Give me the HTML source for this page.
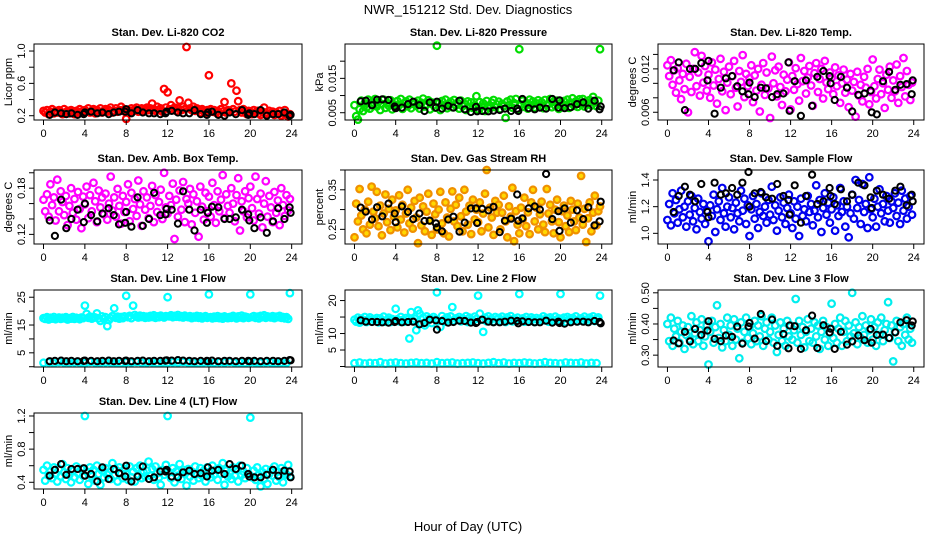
<!DOCTYPE html>
<html><head><meta charset="utf-8"><style>
html,body{margin:0;padding:0;background:#fff;}
svg{display:block;font-family:"Liberation Sans",Arial,sans-serif;}
</style></head><body>
<svg id="chart" width="936" height="540" viewBox="0 0 936 540">
<text x="468" y="14" text-anchor="middle" font-size="13">NWR_151212 Std. Dev. Diagnostics</text>
<text x="468" y="531" text-anchor="middle" font-size="13">Hour of Day (UTC)</text>
</svg>
<script>
const xTicks=[0,4,8,12,16,20,24];
const blackHours=[0.6,1.1,1.7,2.2,2.7,3.3,3.9,4.0,4.6,5.2,5.7,6.3,6.8,7.3,7.9,8.0,8.5,9.1,9.6,10.2,10.7,11.3,11.8,11.9,12.4,13.0,13.5,14.1,14.6,15.2,15.8,15.9,16.3,16.9,17.5,18.0,18.6,19.2,19.8,19.9,20.4,21.0,21.6,22.2,22.7,23.3,23.8,23.9];

const co2Vals=[.26,.24,.27,.22,.25,.28,.23,.26,.24,.27,.25,.22,.28,.24,.26,.23,.27,.25,.22,.26,.24,.28,.25,.23,.27,.25,.29,.24,.26,.28,.23,.27,.25,.29,.24,.26,.28,.25,.27,.30,.24,.26,.29,.25,.27,.31,.26,.28,.16,.27,.25,.29,.26,.28,.30,.25,.27,.29,.26,.28,.30,.27,.29,.35,.28,.26,.31,.27,.29,.25,.53,.30,.49,.28,.33,.27,.30,.26,.29,.39,.27,.31,.28,1.05,.36,.29,.27,.31,.26,.29,.27,.24,.28,.26,.23,.27,.70,.28,.25,.27,.24,.26,.23,.28,.25,.37,.24,.27,.26,.60,.28,.25,.51,.38,.27,.24,.28,.25,.22,.26,.25,.22,.27,.24,.26,.23,.21,.25,.30,.24,.22,.26,.23,.25,.21,.24,.22,.26,.20,.23,.27,.21,.19,.22];
const co2Black=[.21,.24,.23,.22,.23,.21,.22,.24,.25,.23,.24,.22,.24,.25,.25,.28,.23,.27,.24,.23,.23,.22,.23,.25,.26,.24,.23,.23,.27,.22,.21,.24,.25,.21,.20,.24,.22,.27,.21,.23,.22,.27,.20,.22,.22,.24,.20,.21];

const presVals=[.0072,.0040,.0030,.0060,.0085,.0055,.0078,.0065,.0088,.0062,.0080,.0070,.0090,.0068,.0082,.0058,.0075,.0088,.0064,.0079,.0070,.0086,.0060,.0074,.0066,.0084,.0072,.0090,.0061,.0077,.0083,.0069,.0088,.0063,.0076,.0081,.0070,.0085,.0062,.0079,.0091,.0068,.0074,.0086,.0060,.0080,.0072,.0065,.0245,.0078,.0058,.0084,.0070,.0088,.0063,.0076,.0082,.0066,.0087,.0071,.0079,.0062,.0085,.0069,.0076,.0058,.0083,.0067,.0080,.0064,.0072,.0098,.0060,.0081,.0068,.0077,.0055,.0084,.0070,.0063,.0079,.0087,.0066,.0074,.0082,.0061,.0076,.0069,.0035,.0083,.0072,.0088,.0065,.0078,.0090,.0060,.0235,.0074,.0085,.0067,.0079,.0062,.0088,.0071,.0083,.0065,.0077,.0086,.0069,.0080,.0063,.0087,.0072,.0076,.0090,.0066,.0082,.0070,.0085,.0061,.0078,.0068,.0084,.0071,.0088,.0064,.0079,.0092,.0070,.0083,.0067,.0089,.0074,.0090,.0068,.0082,.0076,.0087,.0071,.0096,.0080,.0069,.0085,.0235];
const presBlack=[.0083,.0085,.0072,.0088,.0089,.0087,.0068,.0063,.0065,.0075,.0082,.0072,.0055,.0080,.0065,.0082,.0062,.0070,.0065,.0085,.0060,.0052,.0067,.0054,.0055,.0054,.0056,.0058,.0062,.0055,.0062,.0055,.0090,.0063,.0060,.0065,.0062,.0090,.0065,.0086,.0063,.0066,.0075,.0080,.0062,.0085,.0060,.0068];

const tempVals=[.0125,.0110,.0132,.0098,.0118,.0087,.0121,.0104,.0078,.0113,.0092,.0127,.0060,.0109,.0088,.0120,.0143,.0096,.0115,.0083,.0138,.0101,.0124,.0090,.0112,.0080,.0129,.0097,.0119,.0072,.0106,.0134,.0089,.0116,.0063,.0101,.0123,.0085,.0110,.0131,.0094,.0068,.0117,.0102,.0139,.0081,.0113,.0096,.0107,.0125,.0074,.0111,.0090,.0120,.0061,.0098,.0128,.0084,.0115,.0093,.0052,.0137,.0100,.0118,.0082,.0123,.0095,.0070,.0112,.0089,.0105,.0129,.0064,.0110,.0091,.0121,.0099,.0076,.0135,.0103,.0117,.0086,.0108,.0124,.0097,.0069,.0114,.0128,.0088,.0106,.0120,.0079,.0131,.0101,.0092,.0115,.0108,.0085,.0122,.0096,.0111,.0073,.0100,.0119,.0087,.0105,.0067,.0113,.0090,.0102,.0054,.0116,.0083,.0098,.0075,.0109,.0094,.0120,.0071,.0088,.0133,.0096,.0079,.0106,.0119,.0085,.0100,.0066,.0112,.0091,.0123,.0080,.0104,.0089,.0126,.0073,.0110,.0095,.0135,.0082,.0117,.0098,.0077,.0101];
const tempBlack=[.0118,.0129,.0063,.0120,.0120,.0128,.0104,.0131,.0058,.0094,.0107,.0110,.0096,.0089,.0085,.0101,.0081,.0094,.0093,.0081,.0085,.0086,.0129,.0062,.0103,.0055,.0104,.0069,.0109,.0117,.0110,.0100,.0077,.0109,.0094,.0061,.0084,.0086,.0090,.0060,.0057,.0103,.0116,.0091,.0098,.0099,.0085,.0104];

const ambVals=[.165,.150,.172,.143,.185,.158,.168,.138,.191,.150,.176,.162,.145,.170,.132,.157,.180,.148,.166,.139,.175,.153,.128,.169,.159,.182,.141,.171,.150,.187,.163,.136,.177,.155,.168,.146,.173,.139,.160,.195,.151,.168,.143,.179,.157,.134,.170,.149,.162,.185,.137,.174,.153,.166,.144,.190,.159,.131,.176,.152,.168,.141,.157,.183,.136,.171,.149,.162,.178,.140,.200,.155,.147,.170,.158,.186,.114,.165,.143,.177,.152,.188,.136,.166,.160,.179,.133,.172,.148,.163,.117,.182,.156,.139,.174,.150,.169,.143,.187,.158,.135,.176,.150,.165,.197,.141,.172,.157,.148,.180,.160,.137,.171,.193,.125,.163,.150,.176,.142,.167,.182,.154,.138,.195,.166,.147,.173,.129,.160,.189,.143,.170,.155,.136,.175,.148,.164,.132,.180,.158,.144,.171,.151,.166];
const ambBlack=[.138,.118,.165,.128,.140,.152,.136,.160,.145,.137,.147,.154,.145,.133,.135,.149,.130,.168,.131,.140,.174,.145,.146,.153,.152,.134,.176,.152,.125,.152,.135,.148,.156,.155,.140,.140,.142,.152,.146,.138,.128,.142,.122,.137,.154,.140,.155,.148];

const rhVals=[.230,.315,.270,.352,.285,.250,.300,.240,.320,.262,.358,.295,.278,.345,.258,.310,.235,.290,.338,.268,.302,.248,.325,.282,.298,.255,.336,.275,.312,.242,.290,.350,.265,.305,.252,.322,.280,.215,.330,.260,.308,.245,.295,.340,.272,.236,.315,.288,.250,.300,.345,.265,.240,.318,.280,.232,.302,.346,.270,.312,.258,.330,.283,.245,.350,.295,.262,.310,.238,.325,.275,.300,.268,.318,.245,.290,.340,.400,.255,.305,.280,.236,.322,.292,.312,.250,.292,.335,.270,.230,.308,.282,.355,.220,.296,.262,.240,.305,.276,.330,.258,.293,.238,.318,.350,.270,.305,.250,.288,.320,.262,.243,.352,.290,.312,.270,.240,.300,.325,.268,.230,.296,.310,.258,.285,.243,.322,.300,.270,.248,.315,.280,.385,.262,.302,.218,.278,.318,.245,.292,.335,.260,.296,.308];
const rhBlack=[.305,.295,.275,.306,.283,.315,.290,.268,.308,.294,.276,.290,.271,.272,.265,.255,.245,.275,.282,.244,.267,.303,.303,.266,.302,.298,.307,.243,.272,.277,.338,.272,.278,.303,.308,.300,.390,.276,.296,.246,.303,.267,.298,.276,.306,.260,.270,.320];

const sfVals=[1.10,1.22,1.06,1.30,1.15,1.25,1.08,1.18,1.32,1.12,1.20,1.05,1.24,1.14,1.28,1.09,1.19,1.03,1.26,1.16,1.11,1.22,1.07,1.17,0.94,1.21,1.13,1.29,1.01,1.18,1.24,1.10,1.34,1.15,1.05,1.20,1.27,1.12,1.19,1.03,1.23,1.15,1.09,1.32,1.17,1.26,1.07,1.21,0.98,1.18,1.28,1.11,1.22,1.04,1.16,1.30,1.13,1.20,1.08,1.25,1.14,1.35,1.10,1.21,1.02,1.17,1.27,1.12,1.23,1.07,1.19,1.29,1.15,1.04,1.24,1.11,1.20,0.98,1.26,1.13,1.18,1.09,1.28,1.16,1.22,1.06,1.17,1.36,1.12,1.25,1.01,1.19,1.30,1.14,1.23,1.08,1.18,1.27,1.02,1.21,1.13,1.34,1.16,1.24,1.05,1.20,0.97,1.15,1.29,1.11,1.40,1.19,1.25,1.07,1.37,1.16,1.22,1.04,1.42,1.18,1.12,1.26,1.05,1.20,1.33,1.15,1.22,1.09,1.28,1.17,1.08,1.24,1.19,1.30,1.13,1.23,1.07,1.32,1.17,1.26,1.11,1.20,1.28,1.14];
const sfBlack=[1.16,1.28,1.35,1.29,1.24,1.37,1.16,1.12,1.38,1.29,1.30,1.34,1.29,1.38,1.46,1.20,1.30,1.31,1.27,1.26,1.37,1.28,1.25,1.14,1.36,1.08,1.28,1.44,1.22,1.24,1.34,1.28,1.22,1.33,1.24,1.29,1.38,1.36,1.27,1.19,1.32,1.29,1.26,1.32,1.35,1.21,1.29,1.24];

const l1Vals=[17.5,17.2,17.8,17.0,17.6,17.3,17.9,17.1,17.5,17.7,17.2,17.6,17.4,17.8,17.0,17.5,17.3,17.9,17.2,17.6,17.4,17.1,17.7,17.5,22.0,19.0,17.6,18.0,17.3,17.9,17.7,19.2,17.4,16.5,18.1,17.2,17.8,14.6,16.8,17.5,18.2,21.0,17.6,18.0,17.3,17.9,17.5,18.1,25.5,17.8,18.3,17.5,22.0,18.6,18.0,17.7,18.4,17.9,18.2,17.6,18.0,17.7,18.3,17.9,18.5,17.6,18.1,17.8,18.4,18.0,17.7,18.2,25.0,18.1,18.5,17.8,18.3,18.0,18.6,17.9,18.2,17.7,18.4,18.0,17.8,18.2,17.5,18.0,17.7,18.3,17.6,18.1,17.4,17.9,18.2,17.6,26.0,17.8,17.4,18.0,17.6,18.2,17.5,17.9,17.3,18.1,17.7,17.5,17.9,17.6,18.3,17.8,17.4,18.1,17.7,18.4,17.5,18.0,17.8,17.6,26.0,17.9,18.2,17.6,18.0,17.4,18.3,17.8,18.5,17.6,18.1,17.9,17.7,18.2,17.5,18.0,17.8,18.3,17.6,17.9,17.4,17.8,17.2,26.5];
const l1Low=[1.4,1.6,1.3,1.7,1.5,1.4,1.6,1.5,1.3,1.7,1.5,1.4,1.6,1.5,1.4,1.3,1.6,1.5,1.7,1.4,1.5,1.6,1.3,1.5,1.4,1.6,1.5,1.7,1.4,1.5,1.3,1.6,1.5,1.4,1.6,1.5,1.7,1.4,1.5,1.3,1.6,1.5,1.4,1.6,1.5,1.3,1.5,1.4];
const l1Black=[2.0,2.1,2.2,2.0,2.1,2.0,2.1,2.2,2.1,2.0,2.1,2.2,2.0,2.1,2.1,2.2,2.0,2.1,2.2,2.0,2.1,2.1,2.2,2.3,2.2,2.4,2.2,2.1,2.0,2.1,2.1,2.0,2.2,2.0,2.1,2.1,2.0,2.1,2.1,2.0,2.1,2.0,2.1,2.1,2.0,2.1,2.4,2.3];

const l2Vals=[14.2,13.6,14.8,13.3,14.5,13.9,15.0,13.5,14.3,14.9,13.7,14.4,14.0,14.7,13.4,14.6,13.8,15.1,13.6,14.2,14.8,13.5,14.4,14.0,17.5,14.3,13.7,15.0,14.1,13.6,14.7,14.2,8.5,16.5,13.9,14.5,11.0,17.0,16.0,13.0,14.8,12.5,15.2,14.0,14.6,13.2,15.0,14.3,22.5,13.8,12.0,15.3,14.2,13.6,14.9,14.1,15.2,18.0,13.9,14.6,14.3,15.0,13.7,14.6,14.0,15.3,13.5,14.8,14.2,13.9,15.1,14.4,21.5,16.0,14.2,10.5,14.8,13.7,15.2,14.0,14.5,13.6,15.0,14.3,14.7,13.8,15.1,14.2,13.5,14.9,14.0,15.3,13.7,14.5,14.1,14.8,22.0,14.0,14.6,13.6,15.0,14.2,13.8,14.9,14.3,13.5,14.7,14.1,14.5,13.9,15.2,14.0,14.7,13.6,14.9,14.3,13.8,15.1,14.2,14.6,22.0,14.1,14.8,13.5,15.0,14.3,13.9,14.7,14.1,15.2,13.7,14.4,14.6,13.9,15.1,14.2,13.6,14.8,14.0,15.2,13.8,14.5,14.9,21.5];
const l2Low=[1.0,1.2,0.9,1.1,1.0,1.3,0.9,1.1,1.2,1.0,0.9,1.1,1.2,1.0,1.1,0.9,1.3,1.0,1.1,1.2,0.9,1.0,1.1,1.2,1.0,0.9,1.1,1.3,1.0,1.2,0.9,1.1,1.0,1.2,1.1,0.9,1.0,1.3,1.1,1.0,0.9,1.2,1.1,1.0,1.2,0.9,1.1,1.0];
const l2Black=[14.0,13.6,13.5,13.5,13.4,13.3,13.5,13.8,13.4,13.5,13.6,12.8,13.2,14.2,14.0,11.2,13.8,13.3,13.5,13.9,13.8,13.3,13.2,13.5,14.2,13.6,13.4,13.4,13.6,13.9,13.8,13.1,13.7,13.5,13.4,13.4,13.9,13.3,13.6,13.2,13.0,13.4,13.6,13.6,13.4,13.8,13.5,13.1];

const l3Vals=[.400,.345,.420,.330,.385,.360,.410,.340,.375,.395,.320,.365,.390,.350,.425,.335,.370,.405,.345,.380,.415,.330,.360,.395,.270,.375,.410,.340,.390,.460,.355,.400,.325,.380,.345,.420,.365,.395,.330,.415,.350,.385,.290,.405,.340,.375,.420,.355,.390,.335,.370,.410,.345,.395,.360,.425,.330,.385,.405,.350,.375,.420,.340,.395,.310,.365,.405,.345,.385,.330,.410,.360,.395,.350,.380,.480,.340,.410,.365,.390,.325,.375,.415,.345,.385,.340,.405,.360,.395,.320,.375,.410,.350,.390,.330,.370,.465,.355,.400,.340,.385,.420,.330,.375,.410,.345,.395,.360,.500,.370,.405,.335,.390,.355,.425,.365,.395,.340,.380,.415,.350,.390,.330,.405,.365,.420,.345,.380,.400,.470,.355,.395,.280,.375,.410,.345,.390,.330,.400,.365,.420,.350,.385,.340];
const l3Black=[.347,.338,.375,.344,.384,.365,.379,.409,.352,.345,.363,.359,.392,.337,.392,.403,.353,.432,.345,.414,.330,.368,.322,.395,.393,.320,.380,.427,.323,.396,.373,.385,.320,.375,.334,.344,.363,.348,.384,.340,.365,.366,.355,.373,.405,.412,.395,.408];

const l4Vals=[.55,.42,.60,.48,.53,.45,.58,.50,.41,.56,.47,.62,.52,.44,.57,.49,.40,.54,.46,.59,.51,.43,.56,.48,1.20,.53,.38,.58,.47,.55,.42,.60,.50,.37,.54,.46,.57,.49,.52,.44,.63,.48,.55,.41,.58,.51,.45,.56,.50,.43,.59,.46,.53,.41,.57,.49,.60,.45,.52,.47,.54,.65,.48,.56,.43,.59,.51,.46,.37,.55,.49,.61,1.20,.52,.45,.57,.40,.53,.48,.62,.44,.55,.50,.36,.56,.47,.53,.42,.59,.50,.45,.57,.48,.54,.41,.58,.52,.46,.60,.49,.55,.43,.57,.50,.63,.37,.54,.47,.51,.44,.58,.48,.55,.41,.60,.49,.53,.45,.57,.50,1.18,.46,.54,.43,.58,.49,.35,.52,.44,.56,.38,.50,.55,.48,.59,.42,.53,.46,.57,.40,.52,.49,.61,.47];
const l4Black=[.48,.55,.62,.49,.56,.56,.57,.48,.50,.41,.58,.44,.56,.51,.47,.60,.41,.47,.59,.44,.46,.53,.53,.55,.47,.46,.52,.54,.50,.51,.47,.58,.54,.55,.50,.62,.56,.60,.50,.47,.46,.46,.49,.55,.48,.54,.53,.46];

const panels=[
 {name:'co2',title:'Stan. Dev. Li-820 CO2',ylab:'Licor ppm',box:[34,44,302,120],ylim:[0.147,1.087],ticks:[0.2,0.4,0.6,0.8,1.0],labels:['0.2','','0.6','','1.0'],color:'#ff0000',series:[co2Vals],black:co2Black},
 {name:'pressure',title:'Stan. Dev. Li-820 Pressure',ylab:'kPa',box:[345,44,612,120],ylim:[0.00288,0.025],ticks:[0.005,0.010,0.015,0.020],labels:['0.005','','0.015',''],color:'#00dd00',series:[presVals],black:presBlack},
 {name:'temp',title:'Stan. Dev. Li-820 Temp.',ylab:'degrees C',box:[658,44,924,120],ylim:[0.00493,0.01544],ticks:[0.006,0.008,0.010,0.012,0.014],labels:['0.006','','','0.012',''],color:'#ff00ff',series:[tempVals],black:tempBlack},
 {name:'amb-box',title:'Stan. Dev. Amb. Box Temp.',ylab:'degrees C',box:[34,170,302,244],ylim:[0.1075,0.2036],ticks:[0.12,0.14,0.16,0.18,0.20],labels:['0.12','','','0.18',''],color:'#ff00ff',series:[ambVals],black:ambBlack},
 {name:'rh',title:'Stan. Dev. Gas Stream RH',ylab:'percent',box:[345,170,612,244],ylim:[0.213,0.40],ticks:[0.25,0.30,0.35,0.40],labels:['0.25','','0.35',''],color:'#f09000',fill:'#ffd800',series:[rhVals],black:rhBlack},
 {name:'sample-flow',title:'Stan. Dev. Sample Flow',ylab:'ml/min',box:[658,170,924,244],ylim:[0.92,1.475],ticks:[1.0,1.2,1.4],labels:['1.0','1.2','1.4'],color:'#0000ee',series:[sfVals],black:sfBlack},
 {name:'line1',title:'Stan. Dev. Line 1 Flow',ylab:'ml/min',box:[34,290,302,367],ylim:[-0.1,27.6],ticks:[0,5,10,15,20,25],labels:['','5','','15','','25'],color:'#00ffff',series:[l1Vals,l1Low],black:l1Black},
 {name:'line2',title:'Stan. Dev. Line 2 Flow',ylab:'ml/min',box:[345,290,612,367],ylim:[-0.15,23.2],ticks:[0,5,10,15,20],labels:['','5','10','','20'],color:'#00ffff',series:[l2Vals,l2Low],black:l2Black},
 {name:'line3',title:'Stan. Dev. Line 3 Flow',ylab:'ml/min',box:[658,290,924,367],ylim:[0.262,0.509],ticks:[0.30,0.35,0.40,0.45,0.50],labels:['0.30','','0.40','','0.50'],color:'#00eeee',series:[l3Vals],black:l3Black},
 {name:'line4',title:'Stan. Dev. Line 4 (LT) Flow',ylab:'ml/min',box:[34,413,302,489],ylim:[0.319,1.236],ticks:[0.4,0.6,0.8,1.0,1.2],labels:['0.4','','0.8','','1.2'],color:'#00ffff',series:[l4Vals],black:l4Black}
];

const svg=document.getElementById('chart');
const NS='http://www.w3.org/2000/svg';
function mk(tag,attrs,parent){const e=document.createElementNS(NS,tag);for(const k in attrs)e.setAttribute(k,attrs[k]);parent.appendChild(e);return e;}
const XMIN=-0.92,XMAX=25.0;

panels.forEach(p=>{
  const [x0,y0,x1,y1]=p.box;
  const sx=v=>x0+(v-XMIN)/(XMAX-XMIN)*(x1-x0);
  const sy=v=>y1-(v-p.ylim[0])/(p.ylim[1]-p.ylim[0])*(y1-y0);
  const g=mk('g',{},svg);
  
  
  const t=mk('text',{x:(x0+x1)/2,y:y0-8,'text-anchor':'middle','font-size':'11','font-weight':'bold'},g);
  t.textContent=p.title;
  
  
  const marks=mk('g',{fill:p.fill||'none','stroke-width':'2.2'},g);
  
  
  p.series.forEach(vals=>{
    const step=24/vals.length;
    vals.forEach((v,i)=>{
      const c=mk('circle',{cx:sx(i*step).toFixed(1),cy:sy(v).toFixed(1),r:'3.3',stroke:p.color},marks);
      
      
    });
  });
  p.black.forEach((v,i)=>{
    const c=mk('circle',{cx:sx(blackHours[i]).toFixed(1),cy:sy(v).toFixed(1),r:'3.1',stroke:'#000',fill:'none','stroke-width':'2'},marks);
    
    
  });
  const frame=mk('rect',{x:x0,y:y0,width:x1-x0,height:y1-y0,fill:'none',stroke:'#000','stroke-width':'1'},g);
  
  
  const xa=mk('g',{},g);
  
  
  mk('line',{x1:sx(xTicks[0]),x2:sx(xTicks[xTicks.length-1]),y1:y1,y2:y1,stroke:'#000'},xa);
  xTicks.forEach(v=>{
    mk('line',{x1:sx(v),x2:sx(v),y1:y1,y2:y1+5,stroke:'#000'},xa);
    const l=mk('text',{x:sx(v),y:y1+17,'text-anchor':'middle','font-size':'11'},xa);
    l.textContent=v;
  });
  const ya=mk('g',{},g);
  
  
  mk('line',{x1:x0,x2:x0,y1:sy(p.ticks[0]),y2:sy(p.ticks[p.ticks.length-1]),stroke:'#000'},ya);
  p.ticks.forEach((v,i)=>{
    const y=sy(v);
    mk('line',{x1:x0-5,x2:x0,y1:y,y2:y,stroke:'#000'},ya);
    if(p.labels[i]){
      const l=mk('text',{x:0,y:0,'text-anchor':'middle','font-size':'11',transform:`translate(${x0-9},${y}) rotate(-90)`},ya);
      l.textContent=p.labels[i];
    }
  });
  const yl=mk('text',{x:0,y:0,'text-anchor':'middle','font-size':'11',transform:`translate(${x0-22},${(y0+y1)/2}) rotate(-90)`},g);
  yl.textContent=p.ylab;
  
  
});
</script>
</body></html>
